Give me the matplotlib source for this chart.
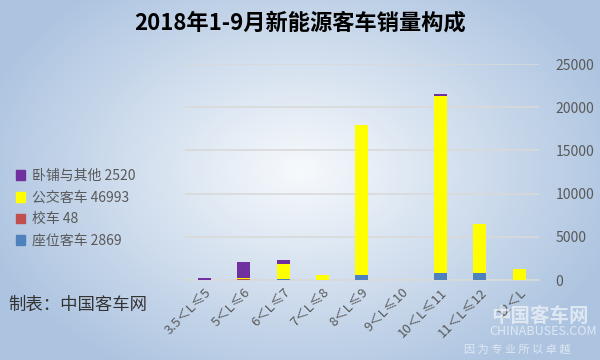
import numpy as np
import matplotlib
matplotlib.use('Agg')
import matplotlib.pyplot as plt
from matplotlib.patches import Patch

plt.rcParams['font.family'] = ['Noto Sans CJK SC', 'DejaVu Sans']

# data
categories = ['3.5＜L≤5', '5＜L≤6', '6＜L≤7', '7＜L≤8', '8＜L≤9',
              '9＜L≤10', '10＜L≤11', '11＜L≤12', '12＜L']
seat = [50, 30, 120, 60, 600, 20, 850, 850, 0]        # 座位客车
school = [0, 48, 0, 0, 0, 0, 0, 0, 0]                  # 校车
bus = [0, 120, 1700, 500, 17400, 0, 20480, 5630, 1270]  # 公交客车
sleeper = [150, 1850, 550, 80, 0, 0, 230, 0, 0]        # 卧铺与其他
legend_labels = ['卧铺与其他 2520', '公交客车 46993', '校车 48', '座位客车 2869']

c_seat, c_school, c_bus, c_sleeper = '#4f81bd', '#c0504d', '#ffff00', '#7030a0'
txt_color = '#595959'

fig = plt.figure(figsize=(6, 3.6), dpi=100)

# radial gradient background
bg = fig.add_axes([0, 0, 1, 1], zorder=-10)
yy, xx = np.mgrid[0:360, 0:600]
r = np.sqrt(((xx - 300) / 330.0) ** 2 + ((yy - 170) / 230.0) ** 2)
r = np.clip(r, 0, 1)
c0 = np.array([0.97, 0.98, 0.99])
c1 = np.array([0.68, 0.77, 0.88])
img = c0[None, None, :] * (1 - r[..., None]) + c1[None, None, :] * r[..., None]
bg.imshow(img, aspect='auto', extent=[0, 1, 0, 1])
bg.axis('off')

ax = fig.add_axes([0.308, 0.222, 0.59, 0.6])
ax.patch.set_alpha(0)
x = np.arange(len(categories))
w = 0.33
b1 = np.array(seat)
b2 = b1 + np.array(school)
b3 = b2 + np.array(bus)
ax.bar(x, seat, w, color=c_seat, zorder=3)
ax.bar(x, school, w, bottom=b1, color=c_school, zorder=3)
ax.bar(x, bus, w, bottom=b2, color=c_bus, zorder=3)
ax.bar(x, sleeper, w, bottom=b3, color=c_sleeper, zorder=3)

ax.set_xlim(-0.5, len(categories) - 0.5)
ax.set_ylim(0, 25000)
ax.set_yticks(range(0, 25001, 5000))
ax.yaxis.tick_right()
ax.tick_params(axis='y', length=0, pad=12, labelsize=10, labelcolor=txt_color)
ax.tick_params(axis='x', length=0, pad=4, labelsize=9.5, labelcolor=txt_color)
ax.set_xticks(x)
ax.set_xticklabels(categories, rotation=45, ha='right', rotation_mode='anchor')
ax.grid(axis='y', color='#d9d9d9', linewidth=1.2, zorder=0)
for s in ['top', 'left', 'right']:
    ax.spines[s].set_visible(False)
ax.spines['bottom'].set_color('#d9d9d9')
ax.spines['bottom'].set_linewidth(1.2)

handles = [Patch(color=c) for c in [c_sleeper, c_bus, c_school, c_seat]]
fig.legend(handles, legend_labels, loc='upper left', bbox_to_anchor=(0.005, 0.565),
           frameon=False, fontsize=10, labelcolor=txt_color, handlelength=0.7,
           handleheight=0.7, handletextpad=0.5, labelspacing=0.55)

fig.text(0.5, 0.935, '2018年1-9月新能源客车销量构成', ha='center', va='center',
         fontsize=16, fontweight='bold', color='black')
fig.text(0.014, 0.153, '制表：中国客车网', ha='left', va='center',
         fontsize=12.5, color='#333333')

# watermark
fig.text(0.9, 0.122, '中国客车网', ha='center', va='center', fontsize=14,
         color='white', alpha=0.6, fontweight='bold')
fig.text(0.905, 0.08, 'CHINABUSES.COM', ha='center', va='center', fontsize=9,
         color='white', alpha=0.6)
fig.text(0.862, 0.03, '因 为 专 业 所 以 卓 越', ha='center', va='center', fontsize=8,
         color='white', alpha=0.6)

fig.savefig('out.png', dpi=100)
